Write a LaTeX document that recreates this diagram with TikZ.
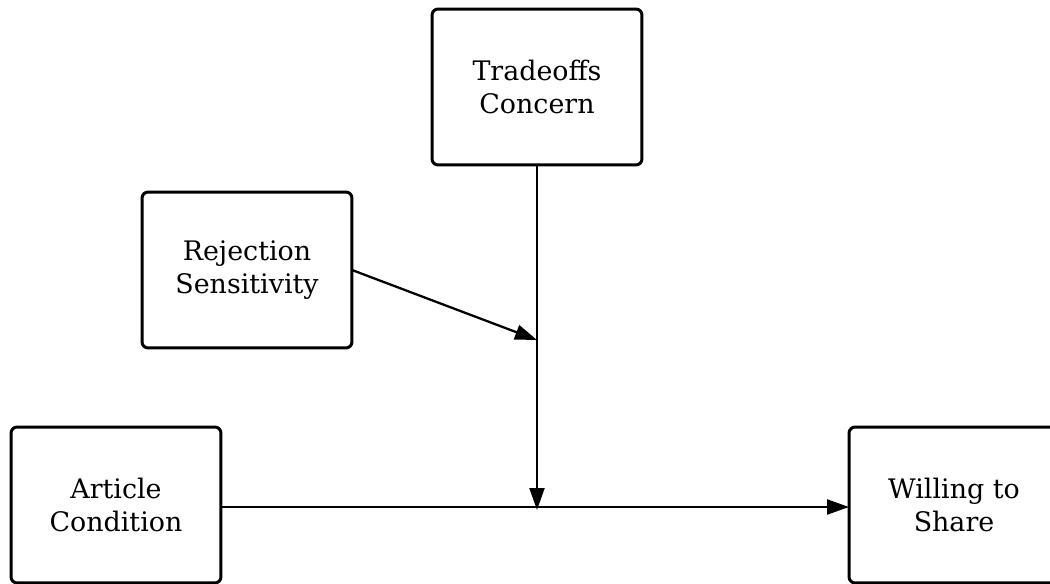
\documentclass[tikz,border=0pt]{standalone}
\usepackage{fontspec}
\setmainfont{DejaVu Serif}
\usepackage{tikz}
\usetikzlibrary{arrows.meta}
\tikzset{>={Triangle[length=12.5pt,width=8.5pt]}}
\tikzset{
  varbox/.style={draw,line width=1.7pt,rounded corners=3.5pt,minimum width=4.2cm,
    minimum height=3.12cm,align=center,outer sep=0pt,
    font=\fontsize{15.3}{18.5}\selectfont},
  link/.style={->,line width=1.3pt}
}

\begin{document}
\begin{tikzpicture}[x=0.02cm,y=-0.02cm]
    \useasboundingbox (0,0) rectangle (1050,584);
      \node[varbox] (trade) at (537,87) {Tradeoffs\\Concern};
      \node[varbox] (rejsens) at (247,270) {Rejection\\Sensitivity};
      \node[varbox] (article) at (116,505) {Article\\Condition};
      \node[varbox] (willing) at (954,505) {Willing to\\Share};
      \coordinate (modpt) at (537,340);
      \coordinate (joinpt) at (537,510);
      \draw[link] (trade.south) -- (joinpt);
      \draw[link] (rejsens.east) -- (modpt);
      \draw[link] (article.east|-0,507) -- (willing.west|-0,507);
\end{tikzpicture}
\end{document}
